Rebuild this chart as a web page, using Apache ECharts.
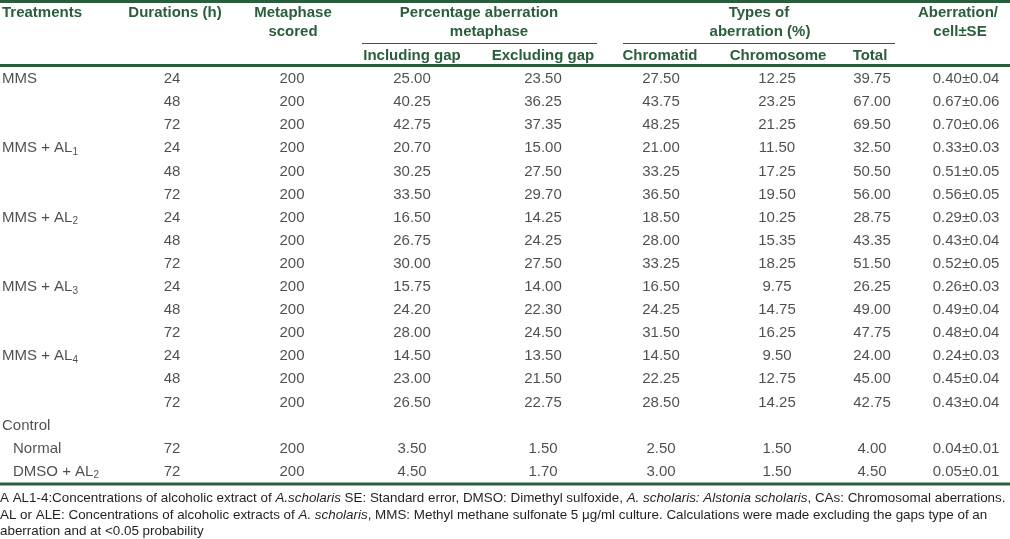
<!DOCTYPE html>
<html>
<head>
<meta charset="utf-8">
<script src="https://cdn.jsdelivr.net/npm/echarts@6/dist/echarts.min.js"></script>
<style>
html,body{margin:0;padding:0;background:#fff;}
#chart{width:1010px;height:539px;}
</style>
</head>
<body>
<div id="chart"></div>
<script>
// ---------- DATA ----------
const treatments = ['MMS', 'MMS + AL1', 'MMS + AL2', 'MMS + AL3', 'MMS + AL4'];
const durationsPerTreatment = [24, 48, 72];
const controlLabel = 'Control';
const controlGroups = ['Normal', 'DMSO + AL2'];
const controlDurations = [72, 72];
const metaphaseScored = [200, 200, 200, 200, 200, 200, 200, 200, 200, 200, 200, 200, 200, 200, 200, 200, 200];
const includingGap = [25.00, 40.25, 42.75, 20.70, 30.25, 33.50, 16.50, 26.75, 30.00, 15.75, 24.20, 28.00, 14.50, 23.00, 26.50, 3.50, 4.50];
const excludingGap = [23.50, 36.25, 37.35, 15.00, 27.50, 29.70, 14.25, 24.25, 27.50, 14.00, 22.30, 24.50, 13.50, 21.50, 22.75, 1.50, 1.70];
const chromatid = [27.50, 43.75, 48.25, 21.00, 33.25, 36.50, 18.50, 28.00, 33.25, 16.50, 24.25, 31.50, 14.50, 22.25, 28.50, 2.50, 3.00];
const chromosome = [12.25, 23.25, 21.25, 11.50, 17.25, 19.50, 10.25, 15.35, 18.25, 9.75, 14.75, 16.25, 9.50, 12.75, 14.25, 1.50, 1.50];
const total = [39.75, 67.00, 69.50, 32.50, 50.50, 56.00, 28.75, 43.35, 51.50, 26.25, 49.00, 47.75, 24.00, 45.00, 42.75, 4.00, 4.50];
const aberrationPerCell = [0.40, 0.67, 0.70, 0.33, 0.51, 0.56, 0.29, 0.43, 0.52, 0.26, 0.49, 0.48, 0.24, 0.45, 0.43, 0.04, 0.05];
const standardError = [0.04, 0.06, 0.06, 0.03, 0.05, 0.05, 0.03, 0.04, 0.05, 0.03, 0.04, 0.04, 0.03, 0.04, 0.04, 0.01, 0.01];
const headerTop = ['Treatments', 'Durations (h)', 'Metaphase', 'Percentage aberration', 'Types of', 'Aberration/'];
const headerSecond = ['scored', 'metaphase', 'aberration (%)', 'cell±SE'];
const headerSub = ['Including gap', 'Excluding gap', 'Chromatid', 'Chromosome', 'Total'];
const footnotes = [
  'A AL1-4:Concentrations of alcoholic extract of {i|A.scholaris} SE: Standard error, DMSO: Dimethyl sulfoxide, {i|A. scholaris: Alstonia scholaris}, CAs: Chromosomal aberrations.',
  'AL or ALE: Concentrations of alcoholic extracts of {i|A. scholaris}, MMS: Methyl methane sulfonate 5 μg/ml culture. Calculations were made excluding the gaps type of an',
  'aberration and at <0.05 probability'
];

// ---------- LAYOUT / STYLE ----------
const GREEN = '#2a5d3c';
const BODY = '#231f20';
const FONT = '"Liberation Sans", Arial, sans-serif';
const colX = { treat: 2, sub: 13, dur: 172, meta: 292, incl: 412, excl: 543, chromatid: 661, chromosome: 777, total: 872, se: 966 };
const ROW_H = 23.1, FIRST_ROW = 79;

// build table rows
const rowKeys = [];
const rowLabel = [];   // treatment column
const rowIndent = [];
const dataRowCat = []; // category index for each data row
treatments.forEach((t) => {
  durationsPerTreatment.forEach((d, j) => {
    dataRowCat.push(rowKeys.length);
    rowKeys.push(t + '-' + d);
    rowLabel.push(j === 0 ? t : '');
    rowIndent.push(false);
  });
});
rowKeys.push(controlLabel); rowLabel.push(controlLabel); rowIndent.push(false);
controlGroups.forEach((g) => {
  dataRowCat.push(rowKeys.length);
  rowKeys.push(g); rowLabel.push(g); rowIndent.push(true);
});
const durations = [];
treatments.forEach(() => durationsPerTreatment.forEach((d) => durations.push(d)));
controlDurations.forEach((d) => durations.push(d));

function sub(s) { return s.replace(/AL(\d)$/, 'AL{s|$1}'); }

const richBody = {
  s: { fontSize: 10, fontFamily: FONT, color: BODY, padding: [8, 0, 0, 0] }
};

function textSeries(name, x, texts, cats, align) {
  return {
    type: 'scatter',
    name: name,
    symbolSize: 0,
    silent: true,
    animation: false,
    data: texts.map((t, i) => ({ value: [typeof x === 'function' ? x(i) : x, cats[i]], txt: t })),
    label: {
      show: true,
      position: align === 'left' ? 'right' : 'inside',
      distance: 0,
      formatter: (p) => p.data.txt,
      color: BODY,
      fontSize: 15,
      fontFamily: FONT,
      rich: richBody
    }
  };
}

const allCats = rowKeys.map((_, i) => i);
const series = [
  textSeries('Treatments', (i) => rowIndent[i] ? colX.sub : colX.treat, rowLabel.map(sub), allCats, 'left'),
  textSeries('Durations', colX.dur, durations.map(String), dataRowCat),
  textSeries('Metaphase scored', colX.meta, metaphaseScored.map(String), dataRowCat),
  textSeries('Including gap', colX.incl, includingGap.map((v) => v.toFixed(2)), dataRowCat),
  textSeries('Excluding gap', colX.excl, excludingGap.map((v) => v.toFixed(2)), dataRowCat),
  textSeries('Chromatid', colX.chromatid, chromatid.map((v) => v.toFixed(2)), dataRowCat),
  textSeries('Chromosome', colX.chromosome, chromosome.map((v) => v.toFixed(2)), dataRowCat),
  textSeries('Total', colX.total, total.map((v) => v.toFixed(2)), dataRowCat),
  textSeries('Aberration/cell±SE', colX.se, aberrationPerCell.map((v, i) => v.toFixed(2) + '±' + standardError[i].toFixed(2)), dataRowCat)
];

const hFont = 'bold 15px ' + FONT;
function htext(text, x, y, align) {
  return { type: 'text', silent: true, x: x, y: y,
    style: { text: text, font: hFont, fill: GREEN, align: align || 'center', verticalAlign: 'middle' } };
}
function hline(x1, x2, y, w) {
  return { type: 'line', silent: true, shape: { x1: x1, y1: y, x2: x2, y2: y }, style: { stroke: GREEN, lineWidth: w } };
}
const H1 = 12.5, H2 = 32, H3 = 56;
const graphics = [
  hline(0, 1010, 1.5, 3),
  hline(0, 1010, 65.5, 3.2),
  hline(0, 1010, 484, 3.2),
  hline(362, 597, 43.5, 1),
  hline(623, 895, 43.5, 1),
  htext(headerTop[0], colX.treat, H1, 'left'),
  htext(headerTop[1], 175, H1),
  htext(headerTop[2], 293, H1),
  htext(headerTop[3], 479, H1),
  htext(headerTop[4], 759, H1),
  htext(headerTop[5], 958, H1),
  htext(headerSecond[0], 293, H2),
  htext(headerSecond[1], 489, H2),
  htext(headerSecond[2], 760, H2),
  htext(headerSecond[3], 960, H2),
  htext(headerSub[0], 412, H3),
  htext(headerSub[1], 543, H3),
  htext(headerSub[2], 660, H3),
  htext(headerSub[3], 778, H3),
  htext(headerSub[4], 870, H3)
];
const footY = [498, 515, 531.5];
footnotes.forEach((f, i) => {
  graphics.push({ type: 'text', silent: true, x: 0, y: footY[i],
    style: { text: f, font: '13.4px ' + FONT, fill: BODY, align: 'left', verticalAlign: 'middle',
      rich: { i: { fontStyle: 'italic', fontSize: 13.4, fontFamily: FONT, color: BODY } } } });
});

const n = rowKeys.length;
const chart = echarts.init(document.getElementById('chart'), null, { renderer: 'canvas' });
chart.setOption({
  animation: false,
  backgroundColor: '#fff',
  grid: { left: 0, right: 0, top: FIRST_ROW - ROW_H / 2, height: ROW_H * n, containLabel: false },
  xAxis: { type: 'value', min: 0, max: 1010, show: false },
  yAxis: { type: 'category', data: rowKeys.map((_, i) => i), inverse: true, show: false },
  tooltip: { show: false },
  series: series,
  graphic: graphics
});
</script>
</body>
</html>
